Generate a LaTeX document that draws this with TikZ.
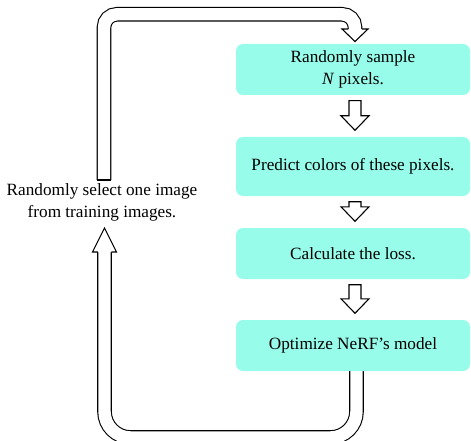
\documentclass[tikz,border=0pt]{standalone}
\usepackage{fontspec}
\setmainfont{Liberation Serif}
\usetikzlibrary{calc}
\definecolor{stepfill}{RGB}{152,252,234}

% hollow block arrow pointing down from one stage box to the next
\newcommand\stepflow[2]{%
  \draw[flow] let \p1=(#1.south), \p2=(#2.north) in
    (\x1-4pt,\y1-5.5pt) -- (\x1+8pt,\y1-5.5pt) -- (\x1+8pt,\y2+21pt)
    -- (\x1+16pt,\y2+21pt) -- (\x1+2pt,\y2+6.5pt) -- (\x1-12pt,\y2+21pt)
    -- (\x1-4pt,\y2+21pt) -- cycle;}

\begin{document}
\begin{tikzpicture}[x=1pt,y=-1pt,
  font=\fontsize{17.2}{22}\selectfont,
  stage/.style={fill=stepfill, rounded corners=7pt, minimum width=234pt,
    align=center, inner sep=0pt},
  loopline/.style={draw=black, line width=1.1pt, double=white,
    double distance=12.4pt},
  loophead/.style={fill=white, draw=black, line width=1.1pt, line join=miter},
  flow/.style={fill=white, draw=black, line width=1.1pt, line join=miter}]
\useasboundingbox (0,0) rectangle (471,441);

% return path from the last stage back to the image selection
\coordinate (bstart) at (356.5,371);
\coordinate (bright) at (356.5,437.5);
\coordinate (bleft)  at (104.5,437.5);
\coordinate (bhead)  at (104.5,252);
\draw[loopline, rounded corners=26pt] (bstart) -- (bright) -- (bleft) -- (bhead);
\filldraw[loophead] ($(bhead)+(-6.75,0)$) -- ($(bhead)+(-12,0)$) -- ($(bhead)+(0,-24)$)
  -- ($(bhead)+(12,0)$) -- ($(bhead)+(6.75,0)$);

% path from the image selection up to the first stage
\coordinate (tstart) at (104,180);
\coordinate (tleft)  at (104,14.25);
\coordinate (tright) at (355,14.25);
\coordinate (thead)  at (355,29);
\draw[loopline, rounded corners=13pt] (tstart) -- (tleft) -- (tright) -- (thead);
\draw[line width=1.1pt] ($(tstart)+(-7.3,0)$) -- ($(tstart)+(7.3,0)$);
\filldraw[loophead] ($(thead)+(-6.75,0)$) -- ($(thead)+(-13,0)$) -- ($(thead)+(0,12.5)$)
  -- ($(thead)+(13,0)$) -- ($(thead)+(6.75,0)$);

% stages
\node[stage, minimum height=51pt] (s1) at (353,69.5) {Randomly sample\\\textit{N} pixels.};
\node[stage, minimum height=59pt] (s2) at (353,166.5) {Predict colors of these pixels.};
\node[stage, minimum height=51pt] (s3) at (353,253.5) {Calculate the loss.};
\node[stage, minimum height=51pt] (s4) at (353,345.5) {Optimize NeRF’s model};

\node[align=center] (sel) at (102,202.5) {Randomly select one image\\from training images.};

\stepflow{s1}{s2}
\stepflow{s2}{s3}
\stepflow{s3}{s4}
\end{tikzpicture}
\end{document}
